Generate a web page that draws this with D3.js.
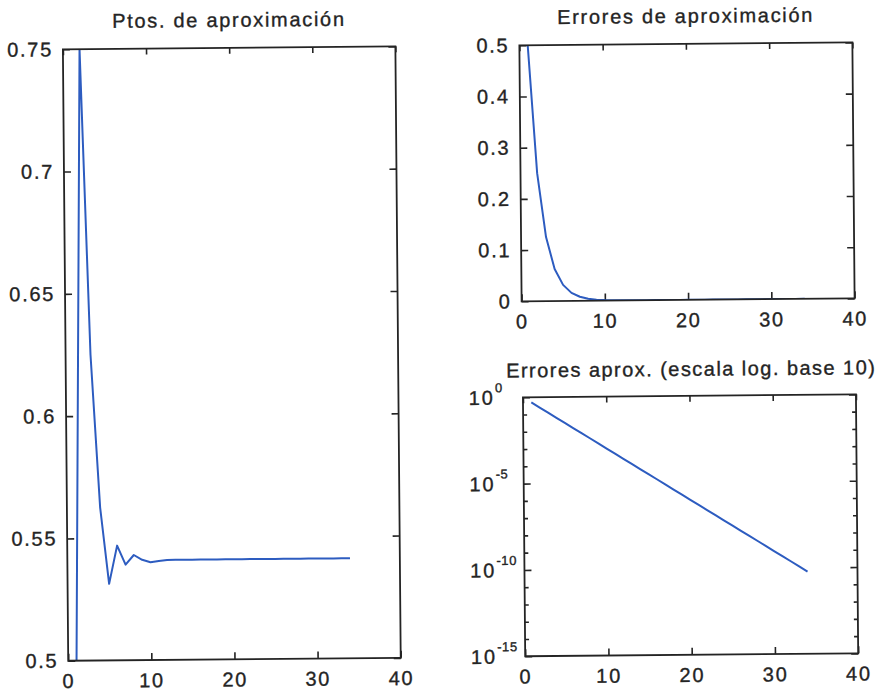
<!DOCTYPE html>
<html>
<head>
<meta charset="utf-8">
<script src="https://cdn.jsdelivr.net/npm/d3@7"></script>
<style>
  html, body { margin: 0; padding: 0; background: #ffffff; }
  svg { display: block; }
  text { font-family: "Liberation Sans", Arial, Helvetica, sans-serif; fill: #242424; }
</style>
</head>
<body>
<script>
// Bisection midpoints, one per iteration
const iteraciones = [1, 2, 3, 4, 5, 6, 7, 8, 9, 10, 11, 12, 13, 14, 15, 16, 17,
  18, 19, 20, 21, 22, 23, 24, 25, 26, 27, 28, 29, 30, 31, 32, 33, 34];
const aproximaciones = [0.5, 0.75, 0.625, 0.5625, 0.5313, 0.5469, 0.5391, 0.5430,
  0.5410, 0.5400, 0.5405, 0.5408, 0.5409, 0.5409, 0.5409, 0.5409, 0.5409, 0.5409,
  0.5409, 0.5409, 0.5409, 0.5409, 0.5409, 0.5409, 0.5409, 0.5409, 0.5409, 0.5409,
  0.5409, 0.5409, 0.5409, 0.5409, 0.5409, 0.5409];

// Error bound per iteration
const errores = [5.0e-1, 2.5e-1, 1.25e-1, 6.25e-2, 3.13e-2, 1.56e-2, 7.81e-3,
  3.91e-3, 1.95e-3, 9.77e-4, 4.88e-4, 2.44e-4, 1.22e-4, 6.10e-5, 3.05e-5, 1.53e-5,
  7.63e-6, 3.81e-6, 1.91e-6, 9.54e-7, 4.77e-7, 2.38e-7, 1.19e-7, 5.96e-8, 2.98e-8,
  1.49e-8, 7.45e-9, 3.73e-9, 1.86e-9, 9.31e-10, 4.66e-10, 2.33e-10, 1.16e-10, 5.82e-11];

const titulos = ["Ptos. de aproximación", "Errores de aproximación",
  "Errores aprox. (escala log. base 10)"];
const ticksX = [0, 10, 20, 30, 40];
const ticksPtos = [0.5, 0.55, 0.6, 0.65, 0.7, 0.75];
const ticksErr = [0, 0.1, 0.2, 0.3, 0.4, 0.5];
const decadas = [1e-15, 1e-14, 1e-13, 1e-12, 1e-11, 1e-10, 1e-9, 1e-8, 1e-7,
  1e-6, 1e-5, 1e-4, 1e-3, 1e-2, 1e-1, 1];
const ticksLog = [1e-15, 1e-10, 1e-5, 1];
const exponentes = ["-15", "-10", "-5", "0"];

const W = 879, H = 692;
const FONT = 20, SPACING = 1.7;
const LINE = "#2d5cc0", INK = "#242424";

const svg = d3.select("body").append("svg")
  .attr("width", W).attr("height", H);
svg.append("rect").attr("width", W).attr("height", H).attr("fill", "#fff");

// whole figure sits slightly tilted on the page
const fig = svg.append("g").attr("transform", "rotate(-0.5, 440, 346)");

function panel(box, id) {
  const g = fig.append("g").attr("transform", `translate(${box.x},${box.y})`);
  g.append("clipPath").attr("id", id)
    .append("rect").attr("width", box.w).attr("height", box.h);
  return g;
}

function textStyle(sel, size, spacing) {
  sel.attr("font-size", size).attr("letter-spacing", spacing)
    .attr("fill", INK).attr("stroke", INK).attr("stroke-width", 0.35)
    .style("font-family", '"Liberation Sans", Arial, sans-serif');
}

function styleAxis(sel) {
  sel.select(".domain").remove();
  sel.selectAll(".tick line").attr("stroke", INK).attr("stroke-width", 1.6);
  sel.selectAll(".tick text").call(textStyle, FONT, SPACING);
}

function frame(g, box) {
  g.append("rect").attr("width", box.w).attr("height", box.h)
    .attr("fill", "none").attr("stroke", INK).attr("stroke-width", 1.8);
}

function title(g, box, txt, dy, dx = 0, spacing = SPACING) {
  g.append("text").attr("x", box.w / 2 + dx).attr("y", dy)
    .attr("text-anchor", "middle").call(textStyle, FONT, spacing).text(txt);
}

function xAxes(g, x, box) {
  g.append("g").attr("transform", `translate(0,${box.h})`)
    .call(d3.axisBottom(x).tickValues(ticksX).tickSize(-7).tickPadding(13)
      .tickFormat(d3.format("d")))
    .call(styleAxis);
  g.append("g")
    .call(d3.axisTop(x).tickValues(ticksX).tickSize(-6).tickFormat(""))
    .call(styleAxis);
}

const fmt = d => String(d);

function linePath(g, x, y, values, clip) {
  g.append("path")
    .datum(iteraciones.map((n, i) => [n, values[i]]))
    .attr("clip-path", `url(#${clip})`)
    .attr("fill", "none").attr("stroke", LINE).attr("stroke-width", 2)
    .attr("stroke-linejoin", "round")
    .attr("d", d3.line().x(d => x(d[0])).y(d => y(d[1])));
}

// ---- Left: approximation points ----
const bL = { x: 65.5, y: 46, w: 332.5, h: 611.5 };
const gL = panel(bL, "clipL");
const xL = d3.scaleLinear().domain([0, 40]).range([0, bL.w]);
const yL = d3.scaleLinear().domain([0.5, 0.75]).range([bL.h, 0]);
xAxes(gL, xL, bL);
gL.append("g").call(d3.axisLeft(yL).tickValues(ticksPtos).tickSize(-7)
  .tickPadding(10).tickFormat(fmt)).call(styleAxis);
gL.append("g").attr("transform", `translate(${bL.w},0)`)
  .call(d3.axisRight(yL).tickValues(ticksPtos).tickSize(-7).tickFormat(""))
  .call(styleAxis);
linePath(gL, xL, yL, aproximaciones, "clipL");
frame(gL, bL);
title(gL, bL, titulos[0], -21);

// ---- Right top: errors, linear scale ----
const bT = { x: 522, y: 46, w: 333, h: 256 };
const gT = panel(bT, "clipT");
const xT = d3.scaleLinear().domain([0, 40]).range([0, bT.w]);
const yT = d3.scaleLinear().domain([0, 0.5]).range([bT.h, 0]);
xAxes(gT, xT, bT);
gT.append("g").call(d3.axisLeft(yT).tickValues(ticksErr).tickSize(-7)
  .tickPadding(10).tickFormat(fmt)).call(styleAxis);
gT.append("g").attr("transform", `translate(${bT.w},0)`)
  .call(d3.axisRight(yT).tickValues(ticksErr).tickSize(-7).tickFormat(""))
  .call(styleAxis);
linePath(gT, xT, yT, errores, "clipT");
frame(gT, bT);
title(gT, bT, titulos[1], -21);

// ---- Right bottom: errors, log10 scale ----
const bB = { x: 522.5, y: 398, w: 333, h: 259 };
const gB = panel(bB, "clipB");
const xB = d3.scaleLinear().domain([0, 40]).range([0, bB.w]);
const yB = d3.scaleLog().domain([1e-15, 1]).range([bB.h, 0]);
xAxes(gB, xB, bB);
const isMajor = d => ticksLog.some(t => Math.abs(Math.log10(t) - Math.log10(d)) < 1e-6);
gB.append("g").call(d3.axisLeft(yB).tickValues(decadas).tickSize(-7).tickFormat(""))
  .call(styleAxis)
  .selectAll(".tick line").attr("x2", d => isMajor(d) ? 7 : 4);
gB.append("g").attr("transform", `translate(${bB.w},0)`)
  .call(d3.axisRight(yB).tickValues(decadas).tickSize(-7).tickFormat(""))
  .call(styleAxis)
  .selectAll(".tick line").attr("x2", d => isMajor(d) ? -7 : -4);
// power-of-ten labels
const lab = gB.append("g").selectAll("g").data(ticksLog).join("g")
  .attr("transform", d => `translate(0,${yB(d)})`);
lab.append("text").attr("x", -28.5).attr("dy", "0.36em")
  .attr("text-anchor", "end").call(textStyle, FONT, SPACING).text("10");
lab.append("text").attr("x", -28).attr("dy", "-0.4em")
  .attr("text-anchor", "start").call(textStyle, 13, 0.6).text((d, i) => exponentes[i]);
linePath(gB, xB, yB, errores, "clipB");
frame(gB, bB);
title(gB, bB, titulos[2], -20, 2, 1.45);
</script>
</body>
</html>
